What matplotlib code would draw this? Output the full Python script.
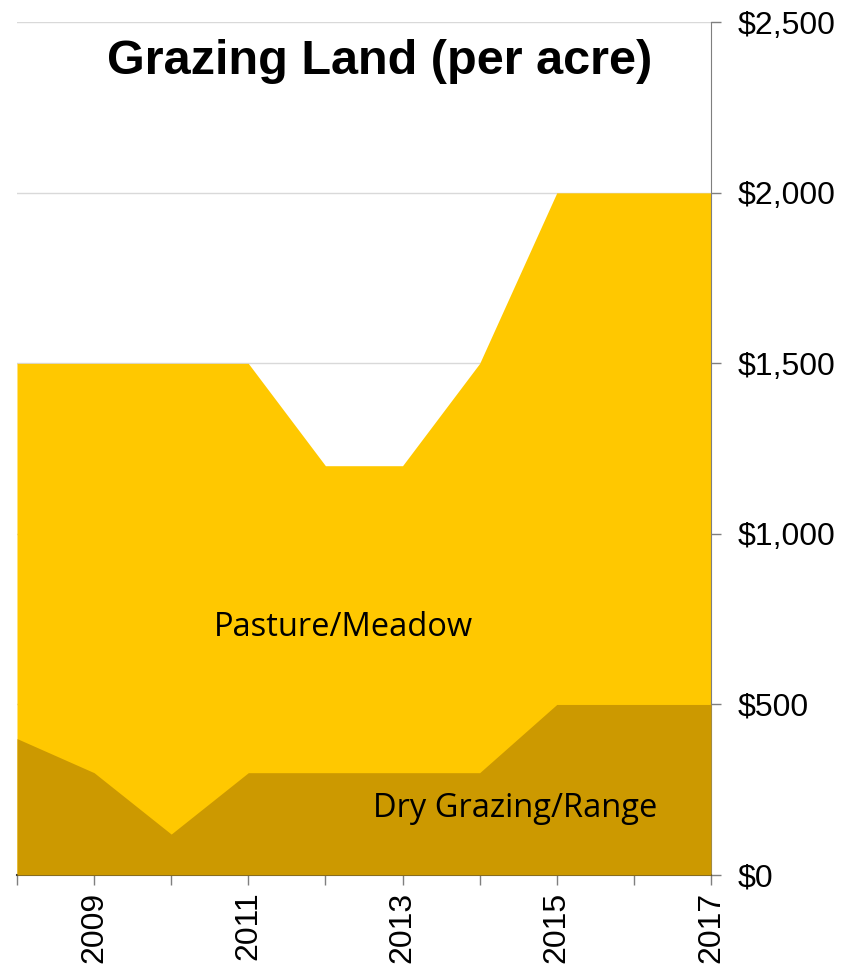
import matplotlib.pyplot as plt
import matplotlib.ticker as mticker

years = [2008, 2009, 2010, 2011, 2012, 2013, 2014, 2015, 2016, 2017]
pasture = [1500, 1500, 1500, 1500, 1200, 1200, 1500, 2000, 2000, 2000]
dry_range = [400, 300, 120, 300, 300, 300, 300, 500, 500, 500]
year_labels = ['', '2009', '', '2011', '', '2013', '', '2015', '', '2017']

plt.rcParams['font.family'] = ['Liberation Sans', 'DejaVu Sans']

fig = plt.figure(figsize=(8.53, 9.69), dpi=100)
ax = fig.add_axes([0.0199, 0.097, 0.8136, 0.880])

# 两块面积叠放，不做堆积
ax.fill_between(years, 0, pasture, color='#FFC800', linewidth=0, zorder=2)
ax.fill_between(years, 0, dry_range, color='#CC9900', linewidth=0, zorder=3)

ax.set_xlim(2008, 2017)
ax.set_ylim(0, 2500)
ax.yaxis.set_major_locator(mticker.MultipleLocator(500))
ax.yaxis.set_major_formatter(mticker.StrMethodFormatter('${x:,.0f}'))
ax.grid(axis='y', color='#D9D9D9', linewidth=1, zorder=1)
ax.set_axisbelow(True)

ax.yaxis.tick_right()
ax.set_xticks(years)
ax.set_xticklabels(year_labels, rotation=90)
ax.tick_params(axis='x', length=7, width=1, color='#7F7F7F', labelsize=23, pad=5)
ax.tick_params(axis='y', length=7, width=1, color='#7F7F7F', labelsize=23, pad=12)

for side in ['left', 'top']:
    ax.spines[side].set_visible(False)
ax.spines['right'].set_color('#7F7F7F')
ax.spines['bottom'].set_color('#404040')
ax.spines['bottom'].set_linewidth(1.5)

label_font = ['Open Sans', 'DejaVu Sans']
ax.text(2012.23, 727, 'Pasture/Meadow', ha='center', va='center',
        fontsize=23.5, family=label_font, zorder=5)
ax.text(2014.46, 196, 'Dry Grazing/Range', ha='center', va='center',
        fontsize=23.5, family=label_font, zorder=5)

fig.text(0.4455, 0.937, 'Grazing Land (per acre)', ha='center', va='center',
         fontsize=35, fontweight='bold')

fig.savefig('out.png', dpi=100)
